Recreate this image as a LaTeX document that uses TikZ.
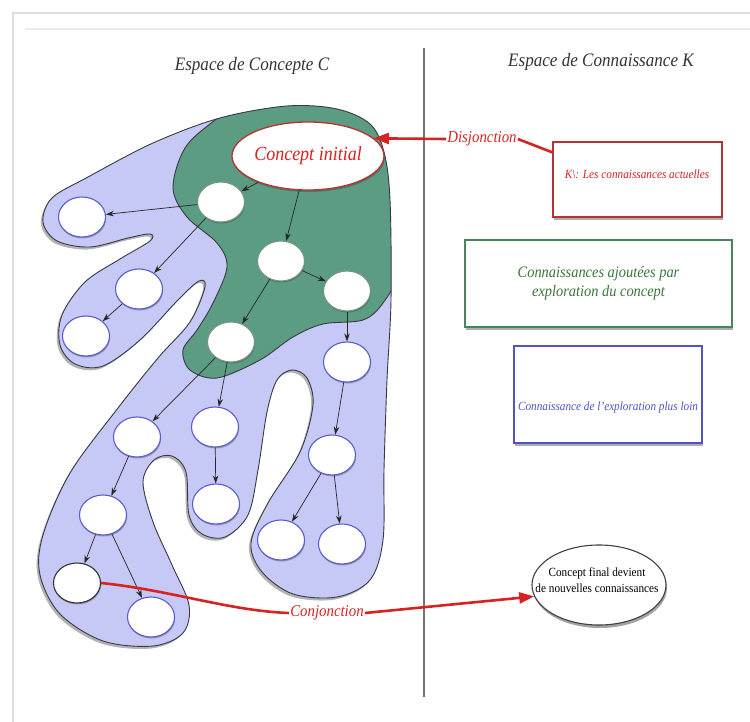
\documentclass[tikz,border=0pt]{standalone}
\usepackage{fontspec}
\setmainfont{Liberation Serif}[FakeStretch=0.9]
\usetikzlibrary{shapes.geometric,arrows.meta,shadows,calc}
\definecolor{redc}{RGB}{214,34,34}
\definecolor{darkred}{RGB}{185,50,50}
\definecolor{blobblue}{RGB}{198,200,246}
\definecolor{blobgreen}{RGB}{92,156,130}
\definecolor{blobline}{RGB}{55,58,70}
\definecolor{nodeblue}{RGB}{92,92,205}
\definecolor{nodegreen}{RGB}{60,105,80}
\definecolor{boxgreen}{RGB}{72,132,92}
\definecolor{txtgreen}{RGB}{58,118,58}
\definecolor{boxblue}{RGB}{82,82,195}
\definecolor{framegray}{RGB}{222,222,222}
\begin{document}
\begin{tikzpicture}[x=1pt,y=-1pt,
  ttl/.style={font=\itshape\fontsize{19}{22}\selectfont, text=black!80},
  redlbl/.style={font=\itshape\fontsize{16.5}{19}\selectfont, text=redc, inner sep=1pt},
  cnode/.style={ellipse, minimum width=47pt, minimum height=40pt, inner sep=0pt,
    draw=nodeblue, line width=1.1pt, fill=white,
    drop shadow={shadow xshift=0.6pt, shadow yshift=-1.5pt, opacity=0.35, fill=black!80}},
  gnode/.style={cnode, draw=nodegreen!70},
  knode/.style={cnode, draw=black!80},
  arr/.style={-{Stealth[length=8pt,width=5.5pt]}, line width=0.7pt, black!85},
  redline/.style={line width=2.6pt, draw=redc},
  kbox/.style={rectangle, line width=1.2pt, fill=white, inner sep=4pt, align=center,
    drop shadow={shadow xshift=1pt, shadow yshift=-3pt, opacity=0.45, fill=black!70}},
]
\useasboundingbox (0,0) rectangle (750,722);
% frame
\draw[framegray, line width=2.5pt] (12,13) -- (750,13);
\draw[framegray, line width=2.5pt] (13,13) -- (13,722);
\draw[black!8, line width=1.5pt] (25,29) -- (750,29);

% titles
\node[ttl] (tc) at (252,66) {Espace de Concepte C};
\node[ttl] (tk) at (601,62) {Espace de Connaissance K};

% divider
\coordinate (dtop) at (424,48);
\coordinate (dbot) at (424,697);
\draw[black!55, line width=1.6pt] (dtop) -- (dbot);

% blue blob
\def\bluepath{plot[smooth cycle, tension=0.55] coordinates {
 (287,106) (337,109) (370,124) (384,152) (390,200) (391,300) (387,380) (384,470)
 (383,540) (370,580) (337,597) (293,594) (262,572) (251,543) (268,503) (300,452)
 (313,405) (307,378) (292,370) (277,380) (267,412) (258,470) (248,515) (225,537)
 (202,534) (189,515) (186,472) (172,456) (154,460) (143,482) (153,522) (172,565)
 (189,605) (183,633) (153,646) (103,641) (60,614) (40,575) (43,535) (70,473)
 (118,408) (158,358) (190,322) (205,287) (199,281) (178,300) (140,340) (103,366)
 (75,364) (60,345) (62,315) (85,282) (120,259) (150,241) (150,234) (128,238)
 (90,247) (57,241) (43,222) (52,198) (88,177) (153,143) (220,118)}}
\fill[blobblue, drop shadow={shadow xshift=-2pt, shadow yshift=-2.5pt, opacity=0.4, fill=black!75}] \bluepath;
\begin{scope}
  \clip \bluepath;
  \filldraw[fill=blobgreen, draw=blobline, line width=0.9pt]
   plot[smooth cycle, tension=0.55] coordinates {
   (255,92) (320,86) (400,92) (404,200) (398,272) (383,303) (363,320) (323,324)
   (293,337) (260,360) (217,378) (190,370) (183,350) (197,330) (213,303) (227,267)
   (217,243) (187,217) (173,188) (185,148) (215,120)};
\end{scope}
\draw[blobline, line width=0.9pt] \bluepath;

% nodes
\node[ellipse, minimum width=128pt, minimum height=68pt, inner sep=0pt, fill=white,
  draw=darkred, line width=1.3pt, font=\itshape\fontsize{20}{22}\selectfont, text=redc,
  drop shadow={shadow xshift=0.8pt, shadow yshift=-2pt, opacity=0.35, fill=black!80}]
  (init) at (308,156) {Concept initial};
\node[gnode] (n1) at (221,202) {};
\node[cnode] (l1) at (82,217) {};
\node[gnode] (n2) at (281,261) {};
\node[gnode] (n3) at (347,291) {};
\node[cnode] (l2) at (139,289) {};
\node[cnode] (l3) at (86,336) {};
\node[gnode] (n4) at (231,342) {};
\node[cnode] (n5) at (347,362) {};
\node[cnode] (n6) at (137,437) {};
\node[cnode] (n7) at (215,427) {};
\node[cnode] (n8) at (332,455) {};
\node[cnode] (n9) at (103,515) {};
\node[cnode] (n10) at (216,504) {};
\node[cnode] (n11) at (281,540) {};
\node[cnode] (n12) at (342,544) {};
\node[knode] (n13) at (77,583) {};
\node[cnode] (n14) at (151,617) {};

% edges
\draw[arr] (init) -- (n1);
\draw[arr] (init) -- (n2);
\draw[arr] (n1) -- (l1);
\draw[arr] (n1) -- (l2);
\draw[arr] (l2) -- (l3);
\draw[arr] (n2) -- (n3);
\draw[arr] (n2) -- (n4);
\draw[arr] (n3) -- (n5);
\draw[arr] (n4) -- (n6);
\draw[arr] (n4) -- (n7);
\draw[arr] (n5) -- (n8);
\draw[arr] (n6) -- (n9);
\draw[arr] (n7) -- (n10);
\draw[arr] (n8) -- (n11);
\draw[arr] (n8) -- (n12);
\draw[arr] (n9) -- (n13);
\draw[arr] (n9) -- (n14);

% right side boxes
\node[kbox, draw=darkred, minimum width=169pt, minimum height=75pt] (k1) at (637.5,179.5) {};
\node[font=\itshape\fontsize{12.5}{15}\selectfont, text=redc, inner sep=0pt] (k1t) at (637,174)
  {K\textbackslash: Les connaissances actuelles};
\node[kbox, draw=boxgreen, minimum width=267pt, minimum height=87pt,
  font=\itshape\fontsize{16}{19}\selectfont, text=txtgreen] (kg) at (598.5,283.5)
  {Connaissances ajoutées par\\exploration du concept};
\node[kbox, draw=boxblue, minimum width=188pt, minimum height=97pt] (kb) at (608,394.5) {};
\node[font=\itshape\fontsize{12.5}{15}\selectfont, text=boxblue, inner sep=0pt] (kbt) at (608,407)
  {Connaissance de l'exploration plus loin};

\node[ellipse, minimum width=134pt, minimum height=80pt, inner sep=0pt, fill=white,
  draw=black!75, line width=1.1pt,
  drop shadow={shadow xshift=1pt, shadow yshift=-3pt, opacity=0.45, fill=black!80}]
  (final) at (599,585) {};
\node[align=center, font=\fontsize{12.5}{16}\selectfont, inner sep=0pt] (finalt) at (597,580)
  {Concept final devient\\de nouvelles connaissances};

% red connectors
\node[redlbl] (disj) at (482,139) {Disjonction};
\draw[redline, -{Triangle[length=15pt,width=11pt]}] (disj.west) -- (init.15);
\coordinate (k1in) at ($(k1.north west)+(0,11)$);
\draw[redline] (disj.east) -- (k1in);

\node[redlbl] (conj) at (327,613) {Conjonction};
\draw[redline] (n13.east) .. controls (170,590) and (230,611) .. (conj.west);
\draw[redline, -{Triangle[length=15pt,width=11pt]}] (conj.east) -- (final.190);
\end{tikzpicture}
\end{document}
